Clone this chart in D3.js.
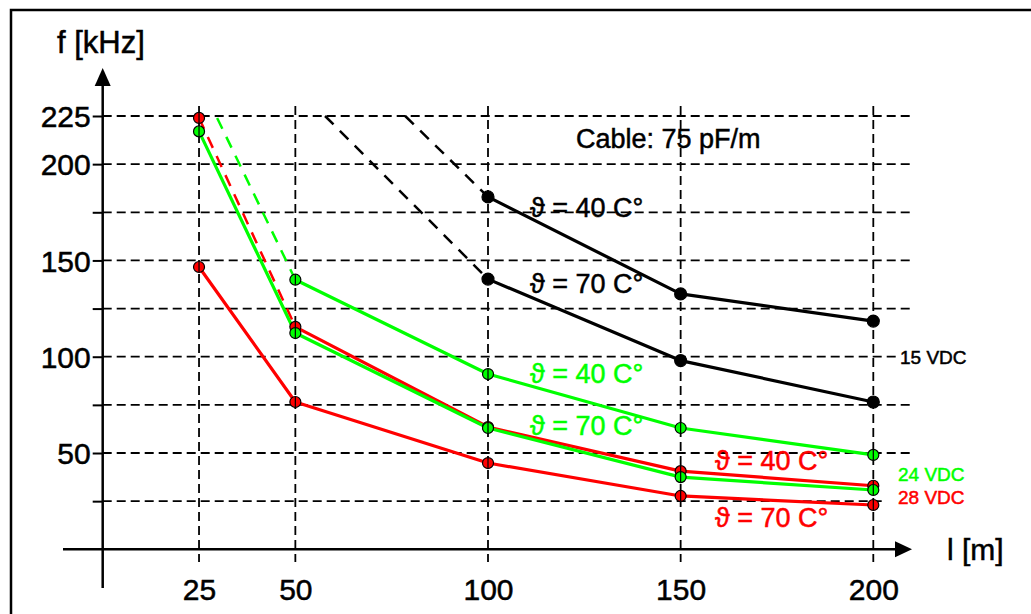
<!DOCTYPE html>
<html>
<head>
<meta charset="utf-8">
<script src="https://cdn.jsdelivr.net/npm/d3@7"></script>
<style>
  body { margin: 0; background: #fff; }
  svg { display: block; font-family: "Liberation Sans", Arial, sans-serif; }
</style>
</head>
<body>
<svg id="chart" width="1031" height="614"></svg>
<script>
// cable length [m] and frequency [kHz]
var lengths = [25, 50, 100, 150, 200];
var xTicks = [25, 50, 100, 150, 200];
var yGrid = [25, 50, 75, 100, 125, 150, 175, 200, 225];
var yLabels = [50, 100, 150, 200, 225];

var black40 = [null, null, 183, 132.6, 118.5];
var black70 = [null, null, 140.3, 98, 76.5];
var green40 = [null, 140, 91, 63, 49];
var green70 = [217, 112.3, 63, 37.5, 30.8];
var red40 = [224, 115.5, 63.5, 40.6, 33];
var red70 = [146.6, 76.5, 44.8, 27.7, 23];

// dashed extrapolations toward the top of the chart
var black40Ext = [[78.5, 225], [100, 183]];
var black70Ext = [[57.7, 225], [100, 140.3]];
var green40Ext = [[29.7, 224], [50, 140]];
var red40Ext = [[25, 224], [50, 115.5]];

var GREEN = '#00ff00', RED = '#ff0000';

var svg = d3.select('#chart');
var x = d3.scaleLinear().domain([0, 200]).range([102.7, 873.3]);
var y = d3.scaleLinear().domain([0, 225]).range([549.3, 116]);

//frame
svg.append('path')
  .attr('d', 'M11,614V10H1031')
  .attr('fill', 'none').attr('stroke', 'black').attr('stroke-width', 2.5);

//grid
var grid = svg.append('g').attr('stroke', 'black').attr('stroke-width', 1.8)
  .attr('stroke-dasharray', '9,5');
grid.selectAll('line.h').data(yGrid).enter().append('line')
  .attr('class', 'h')
  .attr('x1', x(0))
  .attr('x2', function(d){ return d === 25 ? 885 : (d === 100 ? 900 : 912); })
  .attr('y1', function(d){ return y(d); })
  .attr('y2', function(d){ return y(d); });
grid.selectAll('line.v').data(xTicks).enter().append('line')
  .attr('class', 'v')
  .attr('x1', function(d){ return x(d); })
  .attr('x2', function(d){ return x(d); })
  .attr('y1', 106)
  .attr('y2', 562);

//axes
var yAxis = d3.axisLeft(y).tickValues(yGrid).tickSize(10).tickPadding(2)
  .tickFormat(function(d){ return yLabels.indexOf(d) >= 0 ? d : ''; });
var gy = svg.append('g').attr('transform', 'translate(' + x(0) + ',0)').call(yAxis);
gy.select('.domain').remove();
gy.selectAll('.tick line').attr('stroke-width', 2);
gy.selectAll('.tick text').attr('font-size', 30).attr('dy', '0.36em')
  .attr('font-family', '"Liberation Sans", Arial, sans-serif').attr('fill', 'black')
  .attr('stroke', 'black').attr('stroke-width', 0.5);

var xAxis = d3.axisBottom(x).tickValues(xTicks).tickSize(0).tickPadding(29);
var gx = svg.append('g').attr('transform', 'translate(0,' + y(0) + ')').call(xAxis);
gx.select('.domain').remove();
gx.selectAll('.tick text').attr('font-size', 30)
  .attr('font-family', '"Liberation Sans", Arial, sans-serif').attr('fill', 'black')
  .attr('stroke', 'black').attr('stroke-width', 0.5);

svg.append('line').attr('x1', x(0)).attr('x2', x(0)).attr('y1', 84).attr('y2', 588)
  .attr('stroke', 'black').attr('stroke-width', 2.5);
svg.append('path').attr('d', 'M' + x(0) + ',68L' + (x(0) - 8) + ',86L' + (x(0) + 8) + ',86Z');
svg.append('line').attr('x1', 63).attr('x2', 897).attr('y1', y(0)).attr('y2', y(0))
  .attr('stroke', 'black').attr('stroke-width', 2.5);
svg.append('path').attr('d', 'M912,' + y(0) + 'L895,' + (y(0) - 8) + 'L895,' + (y(0) + 8) + 'Z');

//series
var line = d3.line()
  .defined(function(d){ return d[1] != null; })
  .x(function(d){ return x(d[0]); })
  .y(function(d){ return y(d[1]); });

function pairs(vals){
  return lengths.map(function(l, i){ return [l, vals[i]]; });
}

var series = [
  {vals: red70, color: RED, ext: null},
  {vals: red40, color: RED, ext: red40Ext},
  {vals: green70, color: GREEN, ext: null},
  {vals: green40, color: GREEN, ext: green40Ext},
  {vals: black70, color: 'black', ext: black70Ext},
  {vals: black40, color: 'black', ext: black40Ext}
];

series.forEach(function(s){
  if(s.ext){
    svg.append('path').datum(s.ext).attr('d', line)
      .attr('fill', 'none').attr('stroke', s.color).attr('stroke-width', 2.5)
      .attr('stroke-dasharray', '12,9');
  }
  // red 40 starts dashed at 25 m, so the solid part begins at 50 m
  var pts = pairs(s.vals);
  if(s.vals === red40) pts[0] = [25, null];
  svg.append('path').datum(pts).attr('d', line)
    .attr('fill', 'none').attr('stroke', s.color).attr('stroke-width', 3.2)
    .attr('stroke-linejoin', 'round');
});

series.forEach(function(s){
  var pts = pairs(s.vals).filter(function(d){ return d[1] != null; });
  var g = svg.append('g');
  g.selectAll('circle').data(pts).enter().append('circle')
    .attr('cx', function(d){ return x(d[0]); })
    .attr('cy', function(d){ return y(d[1]); })
    .attr('r', s.color === 'black' ? 6 : 5.5)
    .attr('fill', s.color)
    .attr('stroke', 'black').attr('stroke-width', 1.2);
  if(s.color !== 'black'){
    g.selectAll('line').data(pts).enter().append('line')
      .attr('x1', function(d){ return x(d[0]); })
      .attr('x2', function(d){ return x(d[0]); })
      .attr('y1', function(d){ return y(d[1]) - 5; })
      .attr('y2', function(d){ return y(d[1]) + 5; })
      .attr('stroke', 'black').attr('stroke-width', 1.2);
  }
});

//labels
var labels = [
  {t: 'f [kHz]', x: 57, y: 53, s: 31, c: 'black'},
  {t: 'l [m]', x: 947, y: 560, s: 30, c: 'black'},
  {t: 'Cable: 75 pF/m', x: 576, y: 148, s: 27, c: 'black'},
  {t: '\u03d1 = 40 C\u00b0', x: 530, y: 217, s: 27, c: 'black'},
  {t: '\u03d1 = 70 C\u00b0', x: 530, y: 293, s: 27, c: 'black'},
  {t: '\u03d1 = 40 C\u00b0', x: 530, y: 383, s: 27, c: GREEN},
  {t: '\u03d1 = 70 C\u00b0', x: 530, y: 435, s: 27, c: GREEN},
  {t: '\u03d1 = 40 C\u00b0', x: 715, y: 470, s: 27, c: RED},
  {t: '\u03d1 = 70 C\u00b0', x: 715, y: 527, s: 27, c: RED},
  {t: '15 VDC', x: 900, y: 364, s: 19, c: 'black'},
  {t: '24 VDC', x: 898, y: 481, s: 19, c: GREEN},
  {t: '28 VDC', x: 898, y: 504, s: 19, c: RED}
];
svg.selectAll('text.lbl').data(labels).enter().append('text')
  .attr('class', 'lbl')
  .attr('x', function(d){ return d.x; })
  .attr('y', function(d){ return d.y; })
  .attr('font-size', function(d){ return d.s; })
  .attr('fill', function(d){ return d.c; })
  .attr('stroke', function(d){ return d.c; })
  .attr('stroke-width', 0.5)
  .text(function(d){ return d.t; });
</script>
</body>
</html>
